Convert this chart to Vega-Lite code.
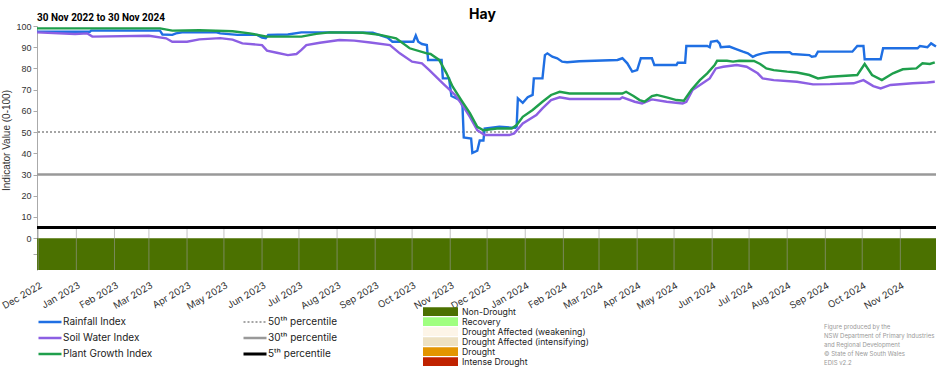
{
  "$schema": "https://vega.github.io/schema/vega-lite/v6.json",
  "width": 899,
  "height": 244,
  "autosize": {"type": "none"},
  "padding": {"left": 37, "top": 26, "right": 16, "bottom": 100},
  "background": "white",
  "config": {"view": {"stroke": null}, "font": "Inter", "axisY": {"labelOverlap": false}, "axis": {"labelOverlap": false}},
  "title": {"text": "Hay", "fontSize": 14, "fontWeight": "bold", "font": "Inter", "anchor": "middle", "offset": -9, "dx": -4, "color": "#000"},
  "datasets": {
    "band": [{"start": "2022-11-30", "end": "2024-11-30", "category": "Non-Drought"}],
    "months": [
      {"month": "2022-12-01"}, {"month": "2023-01-01"}, {"month": "2023-02-01"}, {"month": "2023-03-01"},
      {"month": "2023-04-01"}, {"month": "2023-05-01"}, {"month": "2023-06-01"}, {"month": "2023-07-01"},
      {"month": "2023-08-01"}, {"month": "2023-09-01"}, {"month": "2023-10-01"}, {"month": "2023-11-01"},
      {"month": "2023-12-01"}, {"month": "2024-01-01"}, {"month": "2024-02-01"}, {"month": "2024-03-01"},
      {"month": "2024-04-01"}, {"month": "2024-05-01"}, {"month": "2024-06-01"}, {"month": "2024-07-01"},
      {"month": "2024-08-01"}, {"month": "2024-09-01"}, {"month": "2024-10-01"}, {"month": "2024-11-01"}
    ],
    "pct": [
      {"pct": "50ᵗʰ percentile", "value": 50},
      {"pct": "30ᵗʰ percentile", "value": 30},
      {"pct": "5ᵗʰ percentile", "value": 5}
    ],
    "notes": [
      {"label": "30 Nov 2022 to 30 Nov 2024"}
    ],
    "credits": [
      {"label": "Figure produced by the\nNSW Department of Primary Industries\nand Regional Development\n© State of New South Wales\nEDIS v2.2"}
    ],
    "series": [
      {"date": "2022-11-30", "series": "Rainfall Index", "value": 97.3},
      {"date": "2023-01-12", "series": "Rainfall Index", "value": 97.3},
      {"date": "2023-01-13", "series": "Rainfall Index", "value": 97.8},
      {"date": "2023-03-10", "series": "Rainfall Index", "value": 97.8},
      {"date": "2023-03-12", "series": "Rainfall Index", "value": 96.0},
      {"date": "2023-03-20", "series": "Rainfall Index", "value": 95.8},
      {"date": "2023-03-23", "series": "Rainfall Index", "value": 96.5},
      {"date": "2023-03-28", "series": "Rainfall Index", "value": 97.0},
      {"date": "2023-04-25", "series": "Rainfall Index", "value": 97.0},
      {"date": "2023-04-28", "series": "Rainfall Index", "value": 96.5},
      {"date": "2023-05-12", "series": "Rainfall Index", "value": 95.8},
      {"date": "2023-05-28", "series": "Rainfall Index", "value": 95.8},
      {"date": "2023-06-01", "series": "Rainfall Index", "value": 94.5},
      {"date": "2023-06-04", "series": "Rainfall Index", "value": 94.2},
      {"date": "2023-06-06", "series": "Rainfall Index", "value": 95.8},
      {"date": "2023-06-22", "series": "Rainfall Index", "value": 96.0},
      {"date": "2023-07-03", "series": "Rainfall Index", "value": 97.0},
      {"date": "2023-08-03", "series": "Rainfall Index", "value": 97.0},
      {"date": "2023-08-30", "series": "Rainfall Index", "value": 96.8},
      {"date": "2023-09-11", "series": "Rainfall Index", "value": 94.5},
      {"date": "2023-09-15", "series": "Rainfall Index", "value": 92.6},
      {"date": "2023-10-02", "series": "Rainfall Index", "value": 92.6},
      {"date": "2023-10-04", "series": "Rainfall Index", "value": 95.5},
      {"date": "2023-10-06", "series": "Rainfall Index", "value": 92.6},
      {"date": "2023-10-09", "series": "Rainfall Index", "value": 91.5},
      {"date": "2023-10-13", "series": "Rainfall Index", "value": 91.0},
      {"date": "2023-10-14", "series": "Rainfall Index", "value": 84.0},
      {"date": "2023-10-25", "series": "Rainfall Index", "value": 84.0},
      {"date": "2023-10-26", "series": "Rainfall Index", "value": 75.3},
      {"date": "2023-10-31", "series": "Rainfall Index", "value": 75.3},
      {"date": "2023-11-02", "series": "Rainfall Index", "value": 67.0},
      {"date": "2023-11-09", "series": "Rainfall Index", "value": 65.1},
      {"date": "2023-11-11", "series": "Rainfall Index", "value": 62.0},
      {"date": "2023-11-12", "series": "Rainfall Index", "value": 47.5},
      {"date": "2023-11-18", "series": "Rainfall Index", "value": 47.0},
      {"date": "2023-11-19", "series": "Rainfall Index", "value": 40.2},
      {"date": "2023-11-23", "series": "Rainfall Index", "value": 41.2},
      {"date": "2023-11-25", "series": "Rainfall Index", "value": 46.0},
      {"date": "2023-11-28", "series": "Rainfall Index", "value": 46.0},
      {"date": "2023-11-29", "series": "Rainfall Index", "value": 51.7},
      {"date": "2023-12-11", "series": "Rainfall Index", "value": 52.5},
      {"date": "2023-12-24", "series": "Rainfall Index", "value": 52.0},
      {"date": "2023-12-25", "series": "Rainfall Index", "value": 52.5},
      {"date": "2023-12-26", "series": "Rainfall Index", "value": 65.9},
      {"date": "2023-12-30", "series": "Rainfall Index", "value": 63.8},
      {"date": "2024-01-03", "series": "Rainfall Index", "value": 66.4},
      {"date": "2024-01-07", "series": "Rainfall Index", "value": 67.5},
      {"date": "2024-01-08", "series": "Rainfall Index", "value": 75.3},
      {"date": "2024-01-15", "series": "Rainfall Index", "value": 75.3},
      {"date": "2024-01-17", "series": "Rainfall Index", "value": 86.3},
      {"date": "2024-01-19", "series": "Rainfall Index", "value": 87.1},
      {"date": "2024-01-23", "series": "Rainfall Index", "value": 85.5},
      {"date": "2024-01-27", "series": "Rainfall Index", "value": 84.8},
      {"date": "2024-01-31", "series": "Rainfall Index", "value": 83.2},
      {"date": "2024-02-04", "series": "Rainfall Index", "value": 82.9},
      {"date": "2024-02-14", "series": "Rainfall Index", "value": 83.4},
      {"date": "2024-03-16", "series": "Rainfall Index", "value": 84.0},
      {"date": "2024-03-20", "series": "Rainfall Index", "value": 84.8},
      {"date": "2024-03-24", "series": "Rainfall Index", "value": 82.4},
      {"date": "2024-03-28", "series": "Rainfall Index", "value": 78.5},
      {"date": "2024-04-01", "series": "Rainfall Index", "value": 79.2},
      {"date": "2024-04-04", "series": "Rainfall Index", "value": 84.8},
      {"date": "2024-04-13", "series": "Rainfall Index", "value": 84.8},
      {"date": "2024-04-15", "series": "Rainfall Index", "value": 81.6},
      {"date": "2024-05-03", "series": "Rainfall Index", "value": 81.6},
      {"date": "2024-05-04", "series": "Rainfall Index", "value": 82.7},
      {"date": "2024-05-10", "series": "Rainfall Index", "value": 82.7},
      {"date": "2024-05-11", "series": "Rainfall Index", "value": 90.6},
      {"date": "2024-05-28", "series": "Rainfall Index", "value": 90.6},
      {"date": "2024-05-30", "series": "Rainfall Index", "value": 90.0},
      {"date": "2024-05-31", "series": "Rainfall Index", "value": 92.6},
      {"date": "2024-06-05", "series": "Rainfall Index", "value": 93.0},
      {"date": "2024-06-07", "series": "Rainfall Index", "value": 91.8},
      {"date": "2024-06-08", "series": "Rainfall Index", "value": 90.0},
      {"date": "2024-06-15", "series": "Rainfall Index", "value": 90.3},
      {"date": "2024-06-21", "series": "Rainfall Index", "value": 89.0},
      {"date": "2024-06-26", "series": "Rainfall Index", "value": 87.9},
      {"date": "2024-06-30", "series": "Rainfall Index", "value": 87.1},
      {"date": "2024-07-04", "series": "Rainfall Index", "value": 85.5},
      {"date": "2024-07-07", "series": "Rainfall Index", "value": 86.3},
      {"date": "2024-07-12", "series": "Rainfall Index", "value": 87.1},
      {"date": "2024-07-18", "series": "Rainfall Index", "value": 87.6},
      {"date": "2024-08-03", "series": "Rainfall Index", "value": 87.6},
      {"date": "2024-08-05", "series": "Rainfall Index", "value": 86.8},
      {"date": "2024-08-19", "series": "Rainfall Index", "value": 86.3},
      {"date": "2024-08-21", "series": "Rainfall Index", "value": 85.5},
      {"date": "2024-08-24", "series": "Rainfall Index", "value": 85.8},
      {"date": "2024-08-26", "series": "Rainfall Index", "value": 87.9},
      {"date": "2024-09-23", "series": "Rainfall Index", "value": 87.9},
      {"date": "2024-09-27", "series": "Rainfall Index", "value": 90.6},
      {"date": "2024-10-02", "series": "Rainfall Index", "value": 90.6},
      {"date": "2024-10-03", "series": "Rainfall Index", "value": 84.3},
      {"date": "2024-10-16", "series": "Rainfall Index", "value": 84.3},
      {"date": "2024-10-18", "series": "Rainfall Index", "value": 89.5},
      {"date": "2024-11-15", "series": "Rainfall Index", "value": 89.5},
      {"date": "2024-11-17", "series": "Rainfall Index", "value": 90.6},
      {"date": "2024-11-23", "series": "Rainfall Index", "value": 90.0},
      {"date": "2024-11-26", "series": "Rainfall Index", "value": 91.8},
      {"date": "2024-11-30", "series": "Rainfall Index", "value": 90.3},

      {"date": "2022-11-30", "series": "Soil Water Index", "value": 97.0},
      {"date": "2022-12-31", "series": "Soil Water Index", "value": 96.2},
      {"date": "2023-01-10", "series": "Soil Water Index", "value": 96.5},
      {"date": "2023-01-14", "series": "Soil Water Index", "value": 95.0},
      {"date": "2023-03-01", "series": "Soil Water Index", "value": 95.4},
      {"date": "2023-03-15", "series": "Soil Water Index", "value": 94.2},
      {"date": "2023-03-20", "series": "Soil Water Index", "value": 92.6},
      {"date": "2023-04-01", "series": "Soil Water Index", "value": 92.6},
      {"date": "2023-04-11", "series": "Soil Water Index", "value": 93.7},
      {"date": "2023-04-28", "series": "Soil Water Index", "value": 94.3},
      {"date": "2023-05-08", "series": "Soil Water Index", "value": 93.6},
      {"date": "2023-05-16", "series": "Soil Water Index", "value": 91.8},
      {"date": "2023-06-01", "series": "Soil Water Index", "value": 91.0},
      {"date": "2023-06-05", "series": "Soil Water Index", "value": 88.4},
      {"date": "2023-06-13", "series": "Soil Water Index", "value": 87.4},
      {"date": "2023-06-22", "series": "Soil Water Index", "value": 86.3},
      {"date": "2023-06-29", "series": "Soil Water Index", "value": 86.8},
      {"date": "2023-07-03", "series": "Soil Water Index", "value": 88.7},
      {"date": "2023-07-07", "series": "Soil Water Index", "value": 91.0},
      {"date": "2023-07-18", "series": "Soil Water Index", "value": 92.1},
      {"date": "2023-08-03", "series": "Soil Water Index", "value": 93.4},
      {"date": "2023-08-15", "series": "Soil Water Index", "value": 93.1},
      {"date": "2023-08-28", "series": "Soil Water Index", "value": 92.2},
      {"date": "2023-09-13", "series": "Soil Water Index", "value": 91.0},
      {"date": "2023-09-21", "series": "Soil Water Index", "value": 87.1},
      {"date": "2023-10-01", "series": "Soil Water Index", "value": 83.2},
      {"date": "2023-10-09", "series": "Soil Water Index", "value": 82.4},
      {"date": "2023-10-15", "series": "Soil Water Index", "value": 79.2},
      {"date": "2023-10-26", "series": "Soil Water Index", "value": 73.0},
      {"date": "2023-11-05", "series": "Soil Water Index", "value": 67.5},
      {"date": "2023-11-10", "series": "Soil Water Index", "value": 63.5},
      {"date": "2023-11-17", "series": "Soil Water Index", "value": 57.2},
      {"date": "2023-11-23", "series": "Soil Water Index", "value": 50.9},
      {"date": "2023-11-29", "series": "Soil Water Index", "value": 48.6},
      {"date": "2023-12-19", "series": "Soil Water Index", "value": 48.6},
      {"date": "2023-12-23", "series": "Soil Water Index", "value": 49.4},
      {"date": "2023-12-30", "series": "Soil Water Index", "value": 54.1},
      {"date": "2024-01-10", "series": "Soil Water Index", "value": 58.0},
      {"date": "2024-01-15", "series": "Soil Water Index", "value": 61.2},
      {"date": "2024-01-22", "series": "Soil Water Index", "value": 65.1},
      {"date": "2024-01-29", "series": "Soil Water Index", "value": 66.4},
      {"date": "2024-02-06", "series": "Soil Water Index", "value": 65.6},
      {"date": "2024-03-18", "series": "Soil Water Index", "value": 65.6},
      {"date": "2024-03-20", "series": "Soil Water Index", "value": 66.4},
      {"date": "2024-03-30", "series": "Soil Water Index", "value": 64.3},
      {"date": "2024-04-05", "series": "Soil Water Index", "value": 63.5},
      {"date": "2024-04-13", "series": "Soil Water Index", "value": 65.4},
      {"date": "2024-04-25", "series": "Soil Water Index", "value": 64.3},
      {"date": "2024-05-08", "series": "Soil Water Index", "value": 63.5},
      {"date": "2024-05-11", "series": "Soil Water Index", "value": 64.3},
      {"date": "2024-05-16", "series": "Soil Water Index", "value": 69.8},
      {"date": "2024-05-26", "series": "Soil Water Index", "value": 73.7},
      {"date": "2024-05-30", "series": "Soil Water Index", "value": 75.3},
      {"date": "2024-06-04", "series": "Soil Water Index", "value": 80.0},
      {"date": "2024-06-10", "series": "Soil Water Index", "value": 80.8},
      {"date": "2024-06-21", "series": "Soil Water Index", "value": 81.6},
      {"date": "2024-06-29", "series": "Soil Water Index", "value": 80.8},
      {"date": "2024-07-08", "series": "Soil Water Index", "value": 77.7},
      {"date": "2024-07-12", "series": "Soil Water Index", "value": 75.3},
      {"date": "2024-07-21", "series": "Soil Water Index", "value": 74.5},
      {"date": "2024-08-09", "series": "Soil Water Index", "value": 73.7},
      {"date": "2024-08-22", "series": "Soil Water Index", "value": 72.5},
      {"date": "2024-09-05", "series": "Soil Water Index", "value": 72.6},
      {"date": "2024-09-24", "series": "Soil Water Index", "value": 73.0},
      {"date": "2024-10-02", "series": "Soil Water Index", "value": 74.5},
      {"date": "2024-10-10", "series": "Soil Water Index", "value": 71.7},
      {"date": "2024-10-16", "series": "Soil Water Index", "value": 70.6},
      {"date": "2024-10-24", "series": "Soil Water Index", "value": 72.2},
      {"date": "2024-11-11", "series": "Soil Water Index", "value": 73.0},
      {"date": "2024-11-23", "series": "Soil Water Index", "value": 73.4},
      {"date": "2024-11-29", "series": "Soil Water Index", "value": 73.7},

      {"date": "2022-11-30", "series": "Plant Growth Index", "value": 98.9},
      {"date": "2023-03-10", "series": "Plant Growth Index", "value": 98.9},
      {"date": "2023-03-20", "series": "Plant Growth Index", "value": 97.8},
      {"date": "2023-04-11", "series": "Plant Growth Index", "value": 98.0},
      {"date": "2023-05-08", "series": "Plant Growth Index", "value": 97.5},
      {"date": "2023-05-22", "series": "Plant Growth Index", "value": 96.5},
      {"date": "2023-06-05", "series": "Plant Growth Index", "value": 95.0},
      {"date": "2023-07-03", "series": "Plant Growth Index", "value": 95.0},
      {"date": "2023-07-15", "series": "Plant Growth Index", "value": 96.3},
      {"date": "2023-07-26", "series": "Plant Growth Index", "value": 97.0},
      {"date": "2023-08-22", "series": "Plant Growth Index", "value": 96.8},
      {"date": "2023-09-05", "series": "Plant Growth Index", "value": 95.8},
      {"date": "2023-09-18", "series": "Plant Growth Index", "value": 94.2},
      {"date": "2023-09-29", "series": "Plant Growth Index", "value": 89.5},
      {"date": "2023-10-13", "series": "Plant Growth Index", "value": 87.1},
      {"date": "2023-10-16", "series": "Plant Growth Index", "value": 86.8},
      {"date": "2023-10-23", "series": "Plant Growth Index", "value": 84.0},
      {"date": "2023-10-29", "series": "Plant Growth Index", "value": 77.7},
      {"date": "2023-11-03", "series": "Plant Growth Index", "value": 71.4},
      {"date": "2023-11-10", "series": "Plant Growth Index", "value": 65.1},
      {"date": "2023-11-17", "series": "Plant Growth Index", "value": 58.9},
      {"date": "2023-11-23", "series": "Plant Growth Index", "value": 52.5},
      {"date": "2023-11-28", "series": "Plant Growth Index", "value": 50.9},
      {"date": "2023-12-09", "series": "Plant Growth Index", "value": 51.7},
      {"date": "2023-12-21", "series": "Plant Growth Index", "value": 51.7},
      {"date": "2023-12-25", "series": "Plant Growth Index", "value": 53.3},
      {"date": "2023-12-30", "series": "Plant Growth Index", "value": 57.2},
      {"date": "2024-01-07", "series": "Plant Growth Index", "value": 60.4},
      {"date": "2024-01-15", "series": "Plant Growth Index", "value": 64.3},
      {"date": "2024-01-22", "series": "Plant Growth Index", "value": 67.5},
      {"date": "2024-01-29", "series": "Plant Growth Index", "value": 69.0},
      {"date": "2024-02-06", "series": "Plant Growth Index", "value": 68.2},
      {"date": "2024-03-20", "series": "Plant Growth Index", "value": 68.2},
      {"date": "2024-03-23", "series": "Plant Growth Index", "value": 69.0},
      {"date": "2024-03-29", "series": "Plant Growth Index", "value": 67.0},
      {"date": "2024-04-03", "series": "Plant Growth Index", "value": 65.1},
      {"date": "2024-04-07", "series": "Plant Growth Index", "value": 64.3},
      {"date": "2024-04-13", "series": "Plant Growth Index", "value": 67.0},
      {"date": "2024-04-17", "series": "Plant Growth Index", "value": 67.5},
      {"date": "2024-04-25", "series": "Plant Growth Index", "value": 66.4},
      {"date": "2024-05-03", "series": "Plant Growth Index", "value": 65.1},
      {"date": "2024-05-09", "series": "Plant Growth Index", "value": 64.8},
      {"date": "2024-05-15", "series": "Plant Growth Index", "value": 69.8},
      {"date": "2024-05-22", "series": "Plant Growth Index", "value": 74.5},
      {"date": "2024-05-28", "series": "Plant Growth Index", "value": 77.7},
      {"date": "2024-06-03", "series": "Plant Growth Index", "value": 81.6},
      {"date": "2024-06-05", "series": "Plant Growth Index", "value": 83.6},
      {"date": "2024-06-13", "series": "Plant Growth Index", "value": 83.6},
      {"date": "2024-06-18", "series": "Plant Growth Index", "value": 83.2},
      {"date": "2024-06-23", "series": "Plant Growth Index", "value": 83.6},
      {"date": "2024-07-05", "series": "Plant Growth Index", "value": 83.5},
      {"date": "2024-07-10", "series": "Plant Growth Index", "value": 82.1},
      {"date": "2024-07-15", "series": "Plant Growth Index", "value": 80.0},
      {"date": "2024-07-21", "series": "Plant Growth Index", "value": 79.2},
      {"date": "2024-08-01", "series": "Plant Growth Index", "value": 78.5},
      {"date": "2024-08-09", "series": "Plant Growth Index", "value": 78.1},
      {"date": "2024-08-19", "series": "Plant Growth Index", "value": 76.9},
      {"date": "2024-08-26", "series": "Plant Growth Index", "value": 75.3},
      {"date": "2024-09-05", "series": "Plant Growth Index", "value": 76.1},
      {"date": "2024-09-27", "series": "Plant Growth Index", "value": 76.9},
      {"date": "2024-10-03", "series": "Plant Growth Index", "value": 82.1},
      {"date": "2024-10-09", "series": "Plant Growth Index", "value": 76.9},
      {"date": "2024-10-17", "series": "Plant Growth Index", "value": 74.5},
      {"date": "2024-10-26", "series": "Plant Growth Index", "value": 77.7},
      {"date": "2024-11-03", "series": "Plant Growth Index", "value": 79.6},
      {"date": "2024-11-14", "series": "Plant Growth Index", "value": 80.0},
      {"date": "2024-11-19", "series": "Plant Growth Index", "value": 82.4},
      {"date": "2024-11-25", "series": "Plant Growth Index", "value": 82.1},
      {"date": "2024-11-29", "series": "Plant Growth Index", "value": 82.9}
    ]
  },
  "layer": [
    {
      "data": {"name": "band"},
      "mark": {"type": "rect"},
      "encoding": {
        "x": {"field": "start", "type": "temporal"},
        "x2": {"field": "end"},
        "y": {
          "datum": 0, "type": "quantitative",
          "axis": {
            "title": "Indicator Value (0-100)", "titleFontSize": 10, "titleFontWeight": "normal", "titleColor": "#333",
            "titleFont": "Liberation Sans", "titlePadding": 4, "titleY": 114,
            "values": [-7.5, 0, 10, 20, 30, 40, 50, 60, 70, 80, 90, 100],
            "labelExpr": "datum.value < 0 ? '' : datum.label",
            "labelFont": "Liberation Sans", "labelFontSize": 9, "labelColor": "#333", "labelOverlap": false,
            "grid": false, "domainColor": "#aaaaaa", "tickColor": "#aaaaaa", "tickSize": 4, "labelPadding": 2
          }
        },
        "y2": {"datum": -15},
        "fill": {
          "field": "category", "type": "nominal",
          "scale": {
            "domain": ["Non-Drought", "Recovery", "Drought Affected (weakening)", "Drought Affected (intensifying)", "Drought", "Intense Drought"],
            "range": ["#4b7100", "#a0ff80", "#fdf5e8", "#ede1c2", "#e39500", "#c02200"]
          },
          "legend": {
            "orient": "none", "legendX": 386, "legendY": 281, "title": null,
            "symbolType": "M-1,-0.25H1V0.25H-1Z", "symbolSize": 1225, "symbolStrokeWidth": 0,
            "clipHeight": 9.4, "rowPadding": -1,
            "labelFontSize": 8.7, "labelColor": "#222", "labelOffset": 4, "labelFont": "Inter"
          }
        }
      }
    },
    {
      "data": {"name": "months"},
      "mark": {"type": "rule", "color": "#999999", "opacity": 0.6, "strokeWidth": 1},
      "encoding": {
        "x": {"field": "month", "type": "temporal"},
        "y": {
          "datum": 5, "type": "quantitative",
          "axis": {
            "title": "Indicator Value (0-100)", "titleFontSize": 10, "titleFontWeight": "normal", "titleColor": "#333",
            "titleFont": "Liberation Sans", "titlePadding": 4, "titleY": 114,
            "values": [-7.5, 0, 10, 20, 30, 40, 50, 60, 70, 80, 90, 100],
            "labelExpr": "datum.value < 0 ? '' : datum.label",
            "labelFont": "Liberation Sans", "labelFontSize": 9, "labelColor": "#333", "labelOverlap": false,
            "grid": false, "domainColor": "#aaaaaa", "tickColor": "#aaaaaa", "tickSize": 4, "labelPadding": 2
          }
        },
        "y2": {"datum": -15}
      }
    },
    {
      "data": {"name": "pct"},
      "mark": {"type": "rule"},
      "encoding": {
        "y": {
          "field": "value", "type": "quantitative",
          "axis": {
            "title": "Indicator Value (0-100)", "titleFontSize": 10, "titleFontWeight": "normal", "titleColor": "#333",
            "titleFont": "Liberation Sans", "titlePadding": 4, "titleY": 114,
            "values": [-7.5, 0, 10, 20, 30, 40, 50, 60, 70, 80, 90, 100],
            "labelExpr": "datum.value < 0 ? '' : datum.label",
            "labelFont": "Liberation Sans", "labelFontSize": 9, "labelColor": "#333", "labelOverlap": false,
            "grid": false, "domainColor": "#aaaaaa", "tickColor": "#aaaaaa", "tickSize": 4, "labelPadding": 2
          }
        },
        "stroke": {
          "field": "pct", "type": "nominal",
          "scale": {"domain": ["50ᵗʰ percentile", "30ᵗʰ percentile", "5ᵗʰ percentile"], "range": ["#888888", "#999999", "#000000"]},
          "legend": {
            "orient": "none", "legendX": 205, "legendY": 288, "title": null,
            "symbolType": "stroke", "symbolSize": 529, "clipHeight": 16, "rowPadding": 0,
            "labelFontSize": 10, "labelColor": "#222", "labelOffset": 0, "labelFont": "Inter"
          }
        },
        "strokeDash": {
          "field": "pct", "type": "nominal",
          "scale": {"domain": ["50ᵗʰ percentile", "30ᵗʰ percentile", "5ᵗʰ percentile"], "range": [[2, 2], [1, 0], [1, 0]]},
          "legend": {
            "orient": "none", "legendX": 205, "legendY": 288, "title": null,
            "symbolType": "stroke", "symbolSize": 529, "clipHeight": 16, "rowPadding": 0,
            "labelFontSize": 10, "labelColor": "#222", "labelOffset": 0, "labelFont": "Inter"
          }
        },
        "strokeWidth": {
          "field": "pct", "type": "nominal",
          "scale": {"type": "ordinal", "domain": ["50ᵗʰ percentile", "30ᵗʰ percentile", "5ᵗʰ percentile"], "range": [1.5, 2.5, 3]},
          "legend": {
            "orient": "none", "legendX": 205, "legendY": 288, "title": null,
            "symbolType": "stroke", "symbolSize": 529, "clipHeight": 16, "rowPadding": 0,
            "labelFontSize": 10, "labelColor": "#222", "labelOffset": 0, "labelFont": "Inter"
          }
        }
      }
    },
    {
      "data": {"name": "series"},
      "mark": {"type": "line", "strokeWidth": 2.4},
      "encoding": {
        "x": {
          "field": "date", "type": "temporal",
          "scale": {"type": "utc", "domain": [{"year": 2022, "month": 11, "date": 30, "utc": true}, {"year": 2024, "month": 11, "date": 30, "utc": true}]},
          "axis": {
            "title": null, "format": "%b %Y", "tickCount": {"interval": "month", "step": 1},
            "labelAngle": -30, "labelAlign": "right", "labelBaseline": "top", "labelPadding": 10,
            "labelFontSize": 9.5, "labelColor": "#333", "labelFont": "Inter",
            "domain": false, "ticks": false, "grid": false, "labelOverlap": false, "labelFlush": false
          }
        },
        "y": {
          "field": "value", "type": "quantitative",
          "scale": {"domain": [-15, 100], "nice": false, "zero": false},
          "axis": {
            "title": "Indicator Value (0-100)", "titleFontSize": 10, "titleFontWeight": "normal", "titleColor": "#333",
            "titleFont": "Liberation Sans", "titlePadding": 4, "titleY": 114,
            "values": [-7.5, 0, 10, 20, 30, 40, 50, 60, 70, 80, 90, 100],
            "labelExpr": "datum.value < 0 ? '' : datum.label",
            "labelFont": "Liberation Sans", "labelFontSize": 9, "labelColor": "#333", "labelOverlap": false,
            "grid": false, "domainColor": "#aaaaaa", "tickColor": "#aaaaaa", "tickSize": 4, "labelPadding": 2
          }
        },
        "color": {
          "field": "series", "type": "nominal",
          "scale": {"domain": ["Rainfall Index", "Soil Water Index", "Plant Growth Index"], "range": ["#1f6fe3", "#8c5fe3", "#1f9f4c"]},
          "legend": {
            "orient": "none", "legendX": 0, "legendY": 288, "title": null,
            "symbolType": "stroke", "symbolSize": 529, "symbolStrokeWidth": 2.5, "clipHeight": 16, "rowPadding": 0,
            "labelFontSize": 10, "labelColor": "#222", "labelOffset": 0, "labelFont": "Inter"
          }
        }
      }
    },
    {
      "data": {"name": "notes"},
      "mark": {"type": "text", "align": "left", "baseline": "bottom", "dy": -3, "fontSize": 10, "fontWeight": "bold", "font": "Roboto", "color": "#000"},
      "encoding": {
        "x": {"datum": {"year": 2022, "month": 11, "date": 30, "utc": true}, "type": "temporal"},
        "y": {
          "datum": 100, "type": "quantitative",
          "axis": {
            "title": "Indicator Value (0-100)", "titleFontSize": 10, "titleFontWeight": "normal", "titleColor": "#333",
            "titleFont": "Liberation Sans", "titlePadding": 4, "titleY": 114,
            "values": [-7.5, 0, 10, 20, 30, 40, 50, 60, 70, 80, 90, 100],
            "labelExpr": "datum.value < 0 ? '' : datum.label",
            "labelFont": "Liberation Sans", "labelFontSize": 9, "labelColor": "#333", "labelOverlap": false,
            "grid": false, "domainColor": "#aaaaaa", "tickColor": "#aaaaaa", "tickSize": 4, "labelPadding": 2
          }
        },
        "text": {"field": "label"}
      }
    },
    {
      "data": {"name": "credits"},
      "mark": {"type": "text", "align": "left", "baseline": "top", "fontSize": 6, "lineHeight": 9, "lineBreak": "\n", "font": "Inter", "color": "#999999"},
      "encoding": {
        "x": {"datum": {"year": 2024, "month": 8, "date": 31, "utc": true}, "type": "temporal"},
        "y": {
          "datum": -40.5, "type": "quantitative",
          "axis": {
            "title": "Indicator Value (0-100)", "titleFontSize": 10, "titleFontWeight": "normal", "titleColor": "#333",
            "titleFont": "Liberation Sans", "titlePadding": 4, "titleY": 114,
            "values": [-7.5, 0, 10, 20, 30, 40, 50, 60, 70, 80, 90, 100],
            "labelExpr": "datum.value < 0 ? '' : datum.label",
            "labelFont": "Liberation Sans", "labelFontSize": 9, "labelColor": "#333", "labelOverlap": false,
            "grid": false, "domainColor": "#aaaaaa", "tickColor": "#aaaaaa", "tickSize": 4, "labelPadding": 2
          }
        },
        "text": {"field": "label"}
      }
    }
  ]
}
